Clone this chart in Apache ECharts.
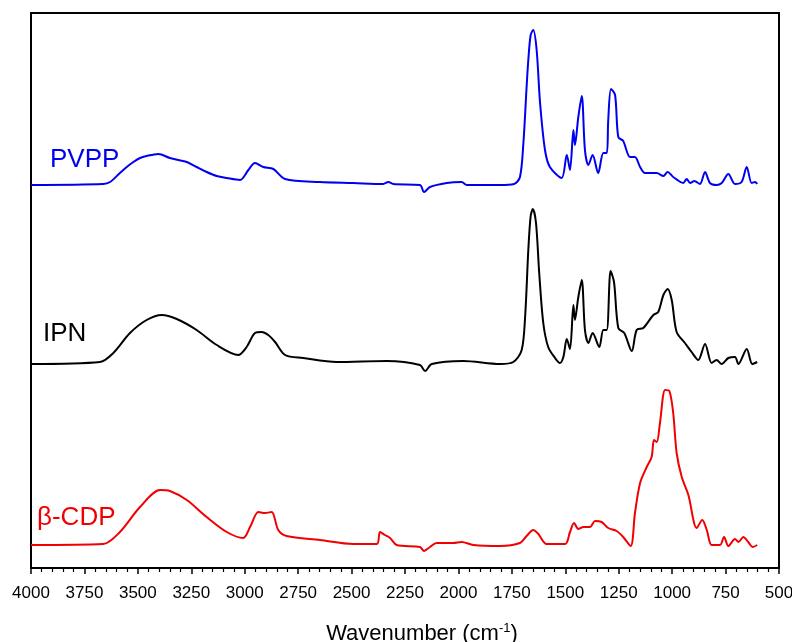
<!DOCTYPE html>
<html>
<head>
<meta charset="utf-8">
<script src="https://cdn.jsdelivr.net/npm/echarts@6/dist/echarts.min.js"></script>
<style>html,body{margin:0;padding:0;background:#fff}#c{width:792px;height:642px}</style>
</head>
<body>
<div id="c"></div>
<script>
// Wavenumbers (cm-1) and offset intensities (arbitrary units)
const pvppWn = [4000,3662,3630,3584,3552,3521,3490,3459,3404,3350,3271,3225,3178,3131,3084,3022,2983,2952,2913,2866,2811,2648,2492,2352,2328,2305,2180,2161,2133,2055,1985,1961,1806,1740,1712,1696,1681,1673,1662,1650,1634,1618,1595,1572,1517,1493,1478,1462,1455,1439,1423,1408,1392,1372,1346,1322,1306,1299,1286,1267,1252,1229,1197,1174,1150,1127,1072,1041,1021,995,948,932,916,896,870,846,823,792,768,737,706,675,651,628,612,602];
const pvppY  = [383,384,386,395,401,406,410,412,414,410,406,401,396,392,390,388,398,405,401,399,389,386,385,384,386,384,383,376,381,385,386,383,383,384,391,425,481,508,533,538,518,465,418,401,390,413,398,438,423,451,472,418,403,413,395,415,415,448,479,473,431,427,411,411,401,395,395,392,396,391,385,389,385,387,384,396,385,383,385,394,384,386,401,385,386,384];

const ipnWn = [4000,3677,3615,3537,3459,3388,3318,3225,3131,3030,2991,2952,2921,2890,2858,2811,2726,2570,2336,2180,2156,2125,1977,1806,1743,1704,1688,1673,1662,1652,1637,1622,1603,1580,1548,1525,1509,1493,1478,1462,1455,1439,1423,1408,1392,1372,1341,1322,1306,1288,1272,1252,1224,1189,1166,1135,1088,1065,1041,1021,1002,979,940,909,878,846,815,792,768,737,706,690,651,625,602];
const ipnY  = [204,206,215,235,248,253,249,238,223,213,221,235,236,233,226,213,210,206,207,203,197,204,207,204,206,218,251,318,352,359,345,295,245,221,210,205,211,229,219,263,248,271,288,238,225,235,221,238,238,297,286,240,235,217,238,240,253,256,273,279,268,236,225,216,208,224,205,208,204,210,211,204,219,204,206];

const cdpWn = [4000,3662,3584,3490,3396,3350,3271,3178,3084,3007,2975,2936,2905,2874,2843,2804,2648,2492,2382,2367,2344,2320,2289,2180,2161,2133,2102,2024,1985,1930,1806,1712,1681,1650,1626,1587,1501,1478,1459,1439,1416,1384,1361,1330,1299,1260,1229,1194,1174,1150,1119,1096,1085,1072,1057,1033,1013,995,979,955,924,885,859,838,815,776,757,737,706,690,667,644,623,602];
const cdpY  = [23,24,36,61,78,77,68,51,36,30,41,56,55,56,38,32,28,24,24,36,33,30,23,21,17,21,25,25,26,23,22,25,32,38,34,24,24,36,45,39,41,41,47,46,40,37,31,22,55,85,101,111,128,126,145,178,177,155,115,91,73,40,48,38,23,23,31,22,29,26,31,26,21,23];

const xTicks = {min: 500, max: 4000, step: 250};
const labels = ['PVPP', 'IPN', 'β-CDP'];
const colors = ['#0000f0', '#000000', '#f00000'];

const zip = (a, b) => a.map((v, i) => [v, b[i]]);

const chart = echarts.init(document.getElementById('c'), null, {renderer: 'canvas'});
const font = '"Liberation Sans", Arial, sans-serif';
const mkSeries = (name, wn, y, color) => ({
  name, type: 'line', data: zip(wn, y), showSymbol: false, symbol: 'none',
  smooth: 0.3,
  lineStyle: {color, width: 2}, animation: false
});

chart.setOption({
  animation: false,
  grid: {left: 31, right: 13, top: 13, bottom: 74, outerBoundsMode: 'none', containLabel: false,
    show: true, borderColor: '#000', borderWidth: 2, backgroundColor: 'transparent'},
  xAxis: {
    type: 'value', inverse: true, min: xTicks.min, max: xTicks.max, interval: xTicks.step,
    name: 'Wavenumber (cm{sup|-1})', nameLocation: 'middle', nameGap: 54,
    nameTextStyle: {fontFamily: font, fontSize: 22, color: '#000', padding: [0, 0, 0, 34],
      rich: {sup: {fontFamily: font, fontSize: 13, verticalAlign: 'top', padding: [0, 0, 10, 0], color: '#000'}}},
    axisLine: {show: true, lineStyle: {color: '#000', width: 2}},
    axisTick: {show: true, inside: false, length: 6, lineStyle: {color: '#000', width: 1.5}},
    minorTick: {show: true, splitNumber: 5, length: 4, lineStyle: {color: '#000', width: 1.2}},
    axisLabel: {fontFamily: font, fontSize: 17, color: '#000', margin: 17, formatter: v => String(v)},
    splitLine: {show: false}
  },
  yAxis: {
    type: 'value', min: 0, max: 555, show: false, splitLine: {show: false}
  },
  graphic: [
    {type: 'text', left: 50, top: 147, style: {text: labels[0], fill: colors[0], font: '26px ' + font}},
    {type: 'text', left: 43, top: 321, style: {text: labels[1], fill: colors[1], font: '26px ' + font}},
    {type: 'text', left: 37, top: 505, style: {text: labels[2], fill: colors[2], font: '26px ' + font}}
  ],
  series: [
    mkSeries(labels[0], pvppWn, pvppY, colors[0]),
    mkSeries(labels[1], ipnWn, ipnY, colors[1]),
    mkSeries(labels[2], cdpWn, cdpY, colors[2])
  ]
});
</script>
</body>
</html>
